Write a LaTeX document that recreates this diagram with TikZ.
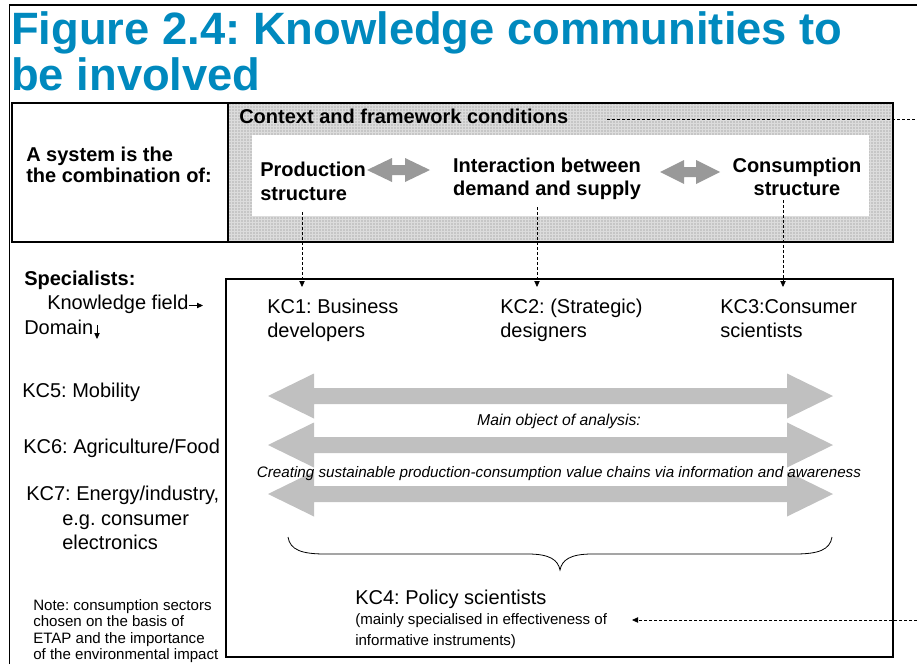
\documentclass[tikz,border=0pt]{standalone}
\usepackage{fontspec}
\setmainfont{Liberation Sans}
\usetikzlibrary{arrows.meta}
\definecolor{titleblue}{RGB}{0,137,190}
\definecolor{texgray}{RGB}{198,198,198}
\definecolor{texline}{RGB}{220,220,220}
\definecolor{bigarrow}{RGB}{192,192,192}
\definecolor{smallarrow}{RGB}{153,153,153}
\newcommand{\DblArrow}[7]{%
 \fill[#1] (#2,#4) -- ({#2+#5},{#4-#6}) -- ({#2+#5},{#4-#7}) -- ({#3-#5},{#4-#7}) -- ({#3-#5},{#4-#6}) -- (#3,#4) -- ({#3-#5},{#4+#6}) -- ({#3-#5},{#4+#7}) -- ({#2+#5},{#4+#7}) -- ({#2+#5},{#4+#6}) -- cycle;}
\begin{document}
\frenchspacing
\begin{tikzpicture}[x=0.75pt,y=-0.75pt,
 t/.style={anchor=base west,inner sep=0pt,font=\fontsize{15}{18}\selectfont},
 tb/.style={anchor=base west,inner sep=0pt,font=\fontsize{15}{18}\selectfont\bfseries},
 tbc/.style={anchor=base,inner sep=0pt,font=\fontsize{15}{18}\selectfont\bfseries},
 ts/.style={anchor=base west,inner sep=0pt,font=\fontsize{11.3}{12.4}\selectfont},
 ti/.style={anchor=base,inner sep=0pt,font=\fontsize{11.4}{13}\selectfont\itshape},
 ttl/.style={anchor=base west,inner sep=0pt,text=titleblue,font=\fontsize{34}{34}\selectfont\bfseries},
 dasharr/.style={line width=0.6pt,dash pattern=on 2.25pt off 1.5pt,-{Triangle[length=4.5pt,width=4pt]}},
 dashln/.style={line width=0.6pt,dash pattern=on 2.25pt off 1.5pt},
 smallarr/.style={line width=0.6pt,-{Triangle[length=4.5pt,width=4pt]}}]
\useasboundingbox (0,0) rectangle (917,664);
\fill[white] (0,0) rectangle (917,664);
% outer frame
\draw[line width=1.3pt] (9.5,664) -- (9.5,5) -- (917,5);
% title
\node[ttl] (title1) at (11,44) {Figure 2.4: Knowledge communities to};
\node[ttl] (title2) at (11,90) {be involved};
% upper box: textured area
\fill[texgray] (228,103) rectangle (893,242);
\draw[texline,line width=0.3pt,step=2.25pt] (228,103) grid (893,242);
\fill[white] (252,135) rectangle (869,216);
\draw[line width=0.9pt] (12,103) rectangle (893,242);
\draw[line width=0.9pt] (228,103) -- (228,242);
\node[tb] (sys1) at (26,161) {A system is the};
\node[tb] (sys2) at (26,182) {the combination of:};
\node[tb] (ctx) at (239,123) {Context and framework conditions};
\node[tb] (prod1) at (260,176) {Production};
\node[tb] (prod2) at (260,200) {structure};
\node[tbc] (int1) at (547,172) {Interaction between};
\node[tbc] (int2) at (547,195) {demand and supply};
\node[tbc] (cons1) at (797,172) {Consumption};
\node[tbc] (cons2) at (797,195) {structure};
\DblArrow{smallarrow}{367}{430}{170}{25}{12}{5}
\DblArrow{smallarrow}{660}{720}{172}{24}{12}{5}
% KC box
\draw[line width=0.9pt] (226,279) rectangle (893,657);
% left column
\node[tb] (spec) at (24,285) {Specialists:};
\node[t] (kfield) at (47,309) {Knowledge field};
\node[t] (domain) at (24,334) {Domain};
\coordinate (kfa) at (203,305.5);
\coordinate (doma) at (97,339);
\draw[smallarr] (kfield.east |- kfa) -- (kfa);
\draw[smallarr] (97,325) -- (doma);
\node[t] (kc5) at (22,397) {KC5: Mobility};
\node[t] (kc6) at (23,453) {KC6: Agriculture/Food};
\node[t] (kc7a) at (26,500) {KC7: Energy/industry,};
\node[t] (kc7b) at (62,525) {e.g. consumer};
\node[t] (kc7c) at (62,549) {electronics};
\node[ts] (note1) at (33,610) {Note: consumption sectors};
\node[ts] (note2) at (33,626.5) {chosen on the basis of};
\node[ts] (note3) at (33,643) {ETAP and the importance};
\node[ts] (note4) at (33,659.5) {of the environmental impact};
% KC texts
\node[t] (kc1a) at (267,313) {KC1: Business};
\node[t] (kc1b) at (267,337) {developers};
\node[t] (kc2a) at (500,313) {KC2: (Strategic)};
\node[t] (kc2b) at (500,337) {designers};
\node[t] (kc3a) at (720,313) {KC3:Consumer};
\node[t] (kc3b) at (720,337) {scientists};
% dashed connectors
\coordinate (d1s) at (302,212);
\coordinate (d1e) at (302,287);
\coordinate (d2s) at (537,207);
\coordinate (d2e) at (537,287);
\coordinate (d3s) at (783,200);
\coordinate (d3e) at (783,287);
\draw[dasharr] (d1s) -- (d1e);
\draw[dasharr] (d2s) -- (d2e);
\draw[dasharr] (d3s) -- (d3e);
\coordinate (ctxend) at (917,119);
\draw[dashln] (607,119) -- (ctxend);
% big arrows
\DblArrow{bigarrow}{268}{833}{396}{46}{22.5}{8}
\DblArrow{bigarrow}{268}{833}{445}{46}{22.5}{8}
\DblArrow{bigarrow}{268}{833}{494}{46}{22.5}{8}
\node[ti,font=\fontsize{11.8}{13}\selectfont\itshape] (mainobj) at (559,425) {Main object of analysis:};
\node[ti] (creating) at (559,477) {Creating sustainable production-consumption value chains via information and awareness};
% brace
\draw[line width=0.6pt] (288,537) .. controls (290,550) and (302,554) .. (325,554) -- (528,554) .. controls (550,554) and (558,560) .. (560,570) .. controls (562,560) and (570,554) .. (592,554) -- (795,554) .. controls (818,554) and (830,550) .. (832,537);
% KC4
\node[t] (kc4) at (355,604) {KC4: Policy scientists};
\node[ts] (kc4b) at (355,624) {(mainly specialised in effectiveness of};
\node[ts] (kc4c) at (355,645) {informative instruments)};
\coordinate (kc4src) at (917,620);
\coordinate (kc4tip) at (632,620);
\draw[dasharr] (kc4src) -- (kc4tip);
\end{tikzpicture}
\end{document}
